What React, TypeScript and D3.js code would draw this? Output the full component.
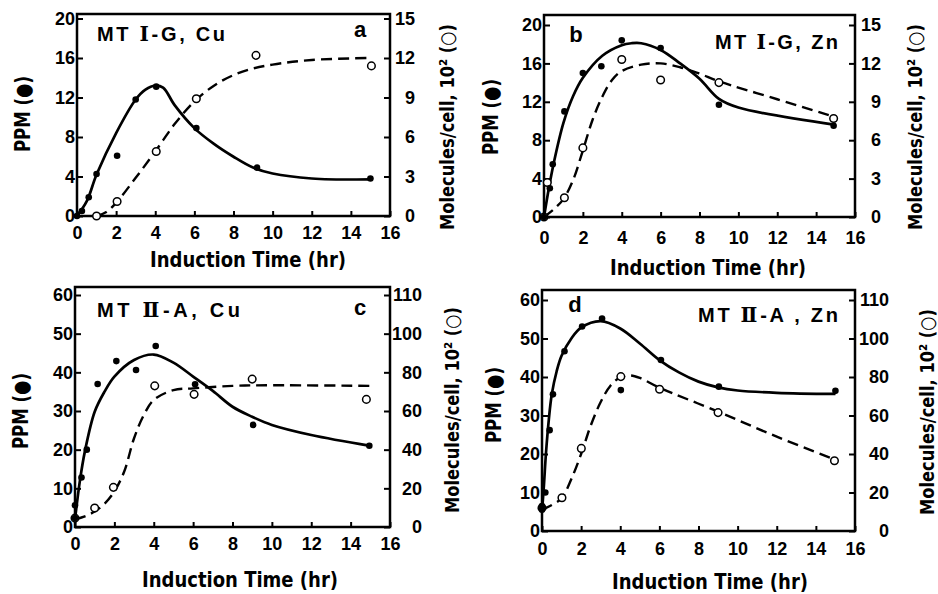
import React, { useEffect, useRef } from "react";
import * as d3 from "d3";

type Pt = [number, number]; // [hours, value]

//---- shared ticks ----//
const xTicks = [0, 2, 4, 6, 8, 10, 12, 14, 16];
const ppmTicksG = [0, 4, 8, 12, 16, 20];
const molTicksG = [0, 3, 6, 9, 12, 15];
const molLabelsG = ["0", "3", "6", "9", "12", "15"];
const ppmTicksA = [0, 10, 20, 30, 40, 50, 60];
const molTicksA = [0, 20, 40, 60, 80, 100, 120];
const molLabelsA = ["0", "20", "40", "60", "80", "100", "110"]; // top label reads 110 in the original

//---- panel a : MT I-G, Cu ----//
const aPpm: Pt[] = [[0, 0], [0.25, 0.5], [0.6, 1.9], [1, 4.25], [2.05, 6.1], [3, 11.8], [4.05, 13.1], [6.1, 8.9], [9.2, 4.9], [15, 3.8]];
const aPpmFit: Pt[] = [[0, 0], [0.5, 1.5], [1, 4.2], [2, 8.4], [3, 11.8], [3.5, 12.8], [4, 13.2], [4.4, 13.0], [5, 11.2], [6, 8.9], [7, 7.3], [8, 6.0], [9, 4.9], [10, 4.3], [12, 3.8], [15, 3.7]];
const aMol: Pt[] = [[1, 0], [2.05, 1.1], [4.05, 4.9], [6.1, 8.9], [9.15, 12.2], [15.05, 11.4]];
const aMolFit: Pt[] = [[1, 0], [1.5, 0.3], [2, 1.0], [3, 2.9], [4, 4.9], [5, 7.0], [6, 8.7], [7, 9.9], [8, 10.7], [9, 11.2], [10, 11.5], [12, 11.85], [15, 12.0]];

//---- panel b : MT I-G, Zn ----//
const bPpm: Pt[] = [[0, 0], [0.3, 3], [0.45, 5.5], [1.05, 11], [2, 15], [2.95, 15.7], [4, 18.4], [6, 17.6], [9, 11.7], [14.9, 9.5]];
const bPpmFit: Pt[] = [[0, 0], [0.25, 3], [0.5, 5.6], [1, 9.8], [1.5, 12.6], [2, 14.5], [3, 16.8], [4, 17.9], [4.5, 18.1], [5, 18.1], [6, 17.4], [7, 16.0], [8, 14.4], [9, 12.3], [10, 11.4], [15, 9.6]];
const bMol: Pt[] = [[0, 0], [0.17, 2.7], [1.05, 1.5], [2, 5.4], [4, 12.3], [6, 10.7], [9, 10.5], [14.9, 7.7]];
const bMolFit: Pt[] = [[0, 0], [0.5, 0.6], [1, 1.4], [1.5, 2.9], [2, 5.2], [2.5, 7.6], [3, 9.4], [3.5, 10.7], [4, 11.4], [5, 11.9], [6, 12.0], [7, 11.7], [8, 11.2], [9, 10.6], [12, 9.2], [15, 7.8]];

//---- panel c : MT II-A, Cu ----//
const cPpm: Pt[] = [[0, 5.6], [0, 2.3], [0.33, 12.8], [0.6, 20], [1.15, 37], [2.1, 42.9], [3.1, 40.6], [4.1, 46.8], [6.1, 36.9], [9.05, 26.4], [14.95, 21]];
const cPpmFit: Pt[] = [[0, 2], [0.25, 12], [0.5, 19.5], [1, 29.8], [1.5, 35], [2, 38.9], [3, 43.2], [4, 44.6], [5, 42.5], [6, 38.9], [7, 35.2], [8, 31.1], [9, 28.5], [10, 26.4], [12, 23.8], [15, 21]];
const cMol: Pt[] = [[0, 4.6], [1, 9.8], [1.95, 20.5], [4.05, 73], [6.05, 68.6], [9, 76.5], [14.8, 66]];
const cMolFit: Pt[] = [[0, 4], [0.5, 5.5], [1, 8], [1.5, 12], [2, 18.4], [2.5, 28.7], [3, 45.9], [3.5, 58], [4, 65.7], [5, 70.8], [6, 71.7], [8, 73], [10, 73.3], [15, 73]];

//---- panel d : MT II-A, Zn ----//
const dPpm: Pt[] = [[0, 5.5], [0, 6.5], [0.17, 10], [0.39, 26.2], [0.56, 35.5], [1.15, 46.7], [2.05, 53.1], [3.07, 55.2], [4.03, 36.6], [6.08, 44.4], [9.04, 37.5], [15, 36.4]];
const dPpmFit: Pt[] = [[0, 5], [0.1, 12], [0.2, 20], [0.35, 29], [0.5, 35.5], [0.75, 41.5], [1, 45.5], [1.5, 50], [2, 52.8], [3, 54.5], [4, 52.6], [5, 48.7], [6, 44.4], [7, 41.2], [8, 38.8], [9, 37.3], [10, 36.5], [12, 35.9], [15, 35.6]];
const dMol: Pt[] = [[0, 12], [1.02, 17.3], [2.01, 42.9], [4.03, 80.2], [6.01, 73.6], [9, 61.5], [14.95, 36.5]];
const dMolFit: Pt[] = [[0, 11], [0.5, 13.5], [1, 17], [1.5, 27], [2, 40], [2.5, 55], [3, 67], [3.5, 75.5], [4, 79.8], [4.5, 80.8], [5, 79.5], [6, 74.5], [9, 62], [12, 49], [15, 37]];

const SANS = "'Liberation Sans', Arial, Helvetica, sans-serif";
const COND = "'DejaVu Sans Condensed', 'Liberation Sans Narrow', 'Liberation Sans', sans-serif";
const SERIF = "'DejaVu Serif', 'Liberation Serif', serif";

const panels = [
  {
    letter: "a", roman: "\u2160", pre: "MT ", post: "-G, Cu",
    ppm: aPpm, ppmFit: aPpmFit, mol: aMol, molFit: aMolFit,
    ppmMax: 20, molMax: 15, ppmTicks: ppmTicksG, molTicks: molTicksG, molLabels: molLabelsG,
    L: { x0: 77, x1: 390, y0: 216, y1: 18.5, top: 14, xPad: 10, rEnd: 25, titleX: 97, titleY: 41, titleW: 128,
      letterX: 360, letterY: 37, xTitleX: 248, xTitleY: 267, ppmX: 30, ppmY: 114, molX: 454, molY: 127 },
  },
  {
    letter: "b", roman: "\u2160", pre: "MT ", post: "-G, Zn",
    ppm: bPpm, ppmFit: bPpmFit, mol: bMol, molFit: bMolFit,
    ppmMax: 20, molMax: 15, ppmTicks: ppmTicksG, molTicks: molTicksG, molLabels: molLabelsG,
    L: { x0: 544, x1: 855, y0: 217, y1: 25, top: 15, xPad: 14, rEnd: 26, titleX: 715, titleY: 49, titleW: 123,
      letterX: 576, letterY: 42, xTitleX: 708, xTitleY: 275, ppmX: 498, ppmY: 117, molX: 922, molY: 127 },
  },
  {
    letter: "c", roman: "\u2161", pre: "MT ", post: "-A, Cu",
    ppm: cPpm, ppmFit: cPpmFit, mol: cMol, molFit: cMolFit,
    ppmMax: 60, molMax: 120, ppmTicks: ppmTicksA, molTicks: molTicksA, molLabels: molLabelsA,
    L: { x0: 75, x1: 390, y0: 527, y1: 295, top: 287, xPad: 10, rEnd: 32, titleX: 97, titleY: 317, titleW: 143,
      letterX: 360, letterY: 315, xTitleX: 240, xTitleY: 587, ppmX: 28, ppmY: 411, molX: 459, molY: 410 },
  },
  {
    letter: "d", roman: "\u2161", pre: "MT ", post: "-A , Zn",
    ppm: dPpm, ppmFit: dPpmFit, mol: dMol, molFit: dMolFit,
    ppmMax: 60, molMax: 120, ppmTicks: ppmTicksA, molTicks: molTicksA, molLabels: molLabelsA,
    L: { x0: 542, x1: 855, y0: 531, y1: 300, top: 290, xPad: 11, rEnd: 34, titleX: 698, titleY: 322, titleW: 140,
      letterX: 575, letterY: 312, xTitleX: 710, xTitleY: 589, ppmX: 501, ppmY: 405, molX: 934, molY: 412 },
  },
];

function drawPanel(svg: any, p: any) {
  const L = p.L;
  const x = d3.scaleLinear().domain([0, 16]).range([L.x0, L.x1]);
  const yL = d3.scaleLinear().domain([0, p.ppmMax]).range([L.y0, L.y1]);
  const yR = d3.scaleLinear().domain([0, p.molMax]).range([L.y0, L.y1]);

  const g = svg.append("g");

  //---- frame ----//
  g.append("rect")
    .attr("x", L.x0)
    .attr("y", L.top)
    .attr("width", L.x1 - L.x0)
    .attr("height", L.y0 - L.top)
    .attr("fill", "none")
    .attr("stroke", "#000")
    .attr("stroke-width", 2.5);

  //---- axes (ticks point inward) ----//
  const xAxis = g
    .append("g")
    .attr("transform", `translate(0,${L.y0})`)
    .call(d3.axisBottom(x).tickValues(xTicks).tickSize(-5).tickSizeOuter(0).tickPadding(L.xPad).tickFormat(d3.format("d")));
  const lAxis = g
    .append("g")
    .attr("transform", `translate(${L.x0},0)`)
    .call(d3.axisLeft(yL).tickValues(p.ppmTicks).tickSize(-6).tickSizeOuter(0).tickPadding(2).tickFormat(d3.format("d")));
  const rAxis = g
    .append("g")
    .attr("transform", `translate(${L.x1},0)`)
    .call(d3.axisRight(yR).tickValues(p.molTicks).tickSize(-6).tickSizeOuter(0).tickPadding(L.rEnd).tickFormat((d: any, i: number) => p.molLabels[i]));
  // right-hand labels are right-aligned in the original
  rAxis.selectAll(".tick text").attr("text-anchor", "end");

  [xAxis, lAxis, rAxis].forEach((a) => {
    a.select(".domain").remove();
    a.selectAll(".tick line").attr("stroke", "#000").attr("stroke-width", 2);
    a.selectAll(".tick text")
      .attr("fill", "#000")
      .style("font-family", SANS)
      .style("font-weight", "bold")
      .style("font-size", "18px");
  });

  //---- curves ----//
  const ppmLine = d3.line<Pt>().x((d) => x(d[0])).y((d) => yL(d[1])).curve(d3.curveCatmullRom.alpha(0.5));
  const molLine = d3.line<Pt>().x((d) => x(d[0])).y((d) => yR(d[1])).curve(d3.curveCatmullRom.alpha(0.5));

  g.append("path")
    .attr("d", molLine(p.molFit))
    .attr("fill", "none")
    .attr("stroke", "#000")
    .attr("stroke-width", 2.4)
    .attr("stroke-dasharray", "11,6");

  g.append("path")
    .attr("d", ppmLine(p.ppmFit))
    .attr("fill", "none")
    .attr("stroke", "#000")
    .attr("stroke-width", 2.7);

  //---- points ----//
  g.selectAll(".mol")
    .data(p.mol)
    .join("circle")
    .attr("cx", (d: Pt) => x(d[0]))
    .attr("cy", (d: Pt) => yR(d[1]))
    .attr("r", 3.8)
    .attr("fill", "#fff")
    .attr("stroke", "#000")
    .attr("stroke-width", 1.5);

  g.selectAll(".ppm")
    .data(p.ppm)
    .join("circle")
    .attr("cx", (d: Pt) => x(d[0]))
    .attr("cy", (d: Pt) => yL(d[1]))
    .attr("r", 3.3)
    .attr("fill", "#000");

  //---- labels ----//
  const title = g
    .append("text")
    .attr("x", L.titleX)
    .attr("y", L.titleY)
    .attr("textLength", L.titleW)
    .attr("lengthAdjust", "spacing")
    .style("font-family", SANS)
    .style("font-weight", "bold")
    .style("font-size", "20px");
  title.append("tspan").text(p.pre);
  title.append("tspan").style("font-family", SERIF).text(p.roman);
  title.append("tspan").text(p.post);

  g.append("text")
    .attr("x", L.letterX)
    .attr("y", L.letterY)
    .attr("text-anchor", "middle")
    .style("font-family", SANS)
    .style("font-weight", "bold")
    .style("font-size", "22px")
    .text(p.letter);

  g.append("text")
    .attr("x", L.xTitleX)
    .attr("y", L.xTitleY)
    .attr("text-anchor", "middle")
    .attr("textLength", 196)
    .attr("lengthAdjust", "spacingAndGlyphs")
    .style("font-family", COND)
    .style("font-weight", "bold")
    .style("font-size", "22px")
    .text("Induction Time (hr)");

  g.append("text")
    .attr("transform", `translate(${L.ppmX},${L.ppmY}) rotate(-90)`)
    .attr("text-anchor", "middle")
    .attr("textLength", 76)
    .attr("lengthAdjust", "spacingAndGlyphs")
    .style("font-family", COND)
    .style("font-weight", "bold")
    .style("font-size", "21px")
    .text("PPM (\u25CF)");

  g.append("text")
    .attr("transform", `translate(${L.molX},${L.molY}) rotate(-90)`)
    .attr("text-anchor", "middle")
    .attr("textLength", 206)
    .attr("lengthAdjust", "spacingAndGlyphs")
    .style("font-family", COND)
    .style("font-weight", "bold")
    .style("font-size", "19.5px")
    .text("Molecules/cell, 10\u00B2 (\u25CB)");
}

export default function App() {
  const ref = useRef<SVGSVGElement>(null);

  useEffect(() => {
    const svg = d3.select(ref.current);
    svg.selectAll("*").remove();
    panels.forEach((p) => drawPanel(svg, p));
  }, []);

  return (
    <svg
      ref={ref}
      width={938}
      height={594}
      style={{ position: "absolute", left: 0, top: 0, background: "#fff" }}
    />
  );
}
